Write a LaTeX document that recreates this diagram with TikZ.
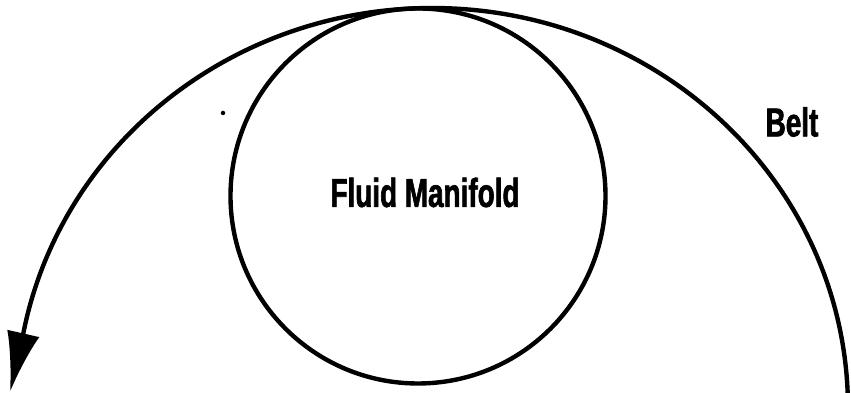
\documentclass[tikz,border=0pt]{standalone}
\usepackage{fontspec}
\newfontfamily\labelfont[FakeStretch=0.69, FakeBold=1.5]{Liberation Sans}
\usetikzlibrary{arrows.meta}

\begin{document}
\begin{tikzpicture}[line width=2.5pt]
\useasboundingbox (0,0) rectangle (17.02,7.86);
\tikzset{lbl/.style={inner sep=0, font=\labelfont\bfseries\fontsize{23}{23}\selectfont}}
% manifold and belt
\node[draw, circle, minimum size=7.5cm, inner sep=0] (manifold) at (8.36,3.94) {};
\coordinate (beltc) at (8.64,-0.3);
\coordinate (belttip) at (0.2,0.02);
\draw[-{Latex[length=1.2cm,width=0.66cm]}] (beltc) ++(2.15:8.32 and 8) arc[start angle=2.15, end angle=169.3, x radius=8.32, y radius=8] -- (belttip);
\node[lbl] (fluid) at (8.5,4.01) {Fluid Manifold};
\node[lbl] (belt) at (15.84,5.42) {Belt};
\fill (4.46,5.6) circle (0.045);
\end{tikzpicture}
\end{document}
